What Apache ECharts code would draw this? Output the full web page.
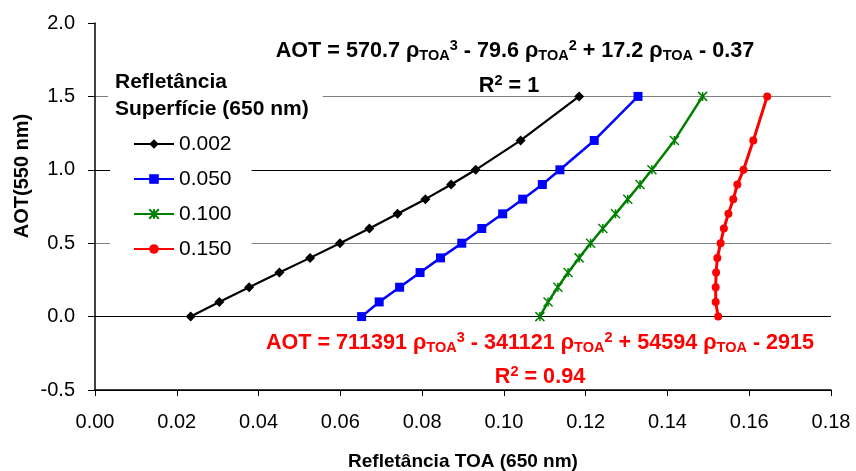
<!DOCTYPE html>
<html>
<head>
    <meta charset="UTF-8">
    <title>AOT x Refletância TOA</title>
    <script src="https://cdn.jsdelivr.net/npm/echarts@6/dist/echarts.min.js"></script>
</head>
<body style="margin: 0; background: #fff">
    <div id="container" style="width: 856px; height: 471px"></div>
    <script type="text/javascript">
        var fonte = "'Liberation Sans', Arial, sans-serif";

        // AOT (550 nm) niveis simulados
        var aotNiveis = [0, 0.1, 0.2, 0.3, 0.4, 0.5, 0.6, 0.7, 0.8, 0.9, 1.0, 1.2, 1.5];
        // refletancia TOA (650 nm) por refletancia de superficie
        var toa002 = [0.0234, 0.0304, 0.0377, 0.0451, 0.0526, 0.0599, 0.0671, 0.0740, 0.0808, 0.0871, 0.0931, 0.1041, 0.1184];
        var toa050 = [0.0652, 0.0695, 0.0745, 0.0795, 0.0845, 0.0897, 0.0946, 0.0997, 0.1046, 0.1094, 0.1137, 0.1221, 0.1328];
        var toa100 = [0.1088, 0.1108, 0.1132, 0.1157, 0.1184, 0.1212, 0.1242, 0.1273, 0.1303, 0.1333, 0.1362, 0.1417, 0.1486];
        var toa150 = [0.1524, 0.1518, 0.1518, 0.1519, 0.1522, 0.1530, 0.1538, 0.1549, 0.1561, 0.1571, 0.1586, 0.1610, 0.1644];
        var nomes = ['0.002', '0.050', '0.100', '0.150'];
        var cores = ['#000000', '#0000ff', '#008000', '#ff0000'];

        function pares(xs) {
            return xs.map((x, i) => [x, aotNiveis[i]]);
        }

        var asterisco = 'path://M0,0L10,10M10,0L0,10M5,0L5,10';

        // estilos do texto das equacoes (rho com subscrito TOA e expoente)
        function estiloEq(cor) {
            return {
                b: { font: 'bold 21.6px ' + fonte, fill: cor, lineHeight: 30, verticalAlign: 'middle' },
                s: { font: 'bold 14.5px ' + fonte, fill: cor, lineHeight: 30, verticalAlign: 'bottom', padding: [0, 0, 3, 0] },
                p: { font: 'bold 14.5px ' + fonte, fill: cor, lineHeight: 30, verticalAlign: 'top', padding: [2, 0, 0, 0] }
            };
        }

        function textoEq(txt, x, y, cor) {
            return {
                type: 'text',
                x: x,
                y: y,
                z: 100,
                style: {
                    text: txt,
                    align: 'center',
                    verticalAlign: 'middle',
                    fill: cor,
                    rich: estiloEq(cor)
                }
            };
        }

        var dom = document.getElementById("container");
        var myChart = echarts.init(dom);
        var option = {
            animation: false,
            textStyle: { fontFamily: fonte },
            grid: {
                left: 95,
                right: 25,
                top: 23,
                bottom: 81,
                outerBoundsMode: 'none'
            },
            legend: {
                orient: 'vertical',
                left: 110,
                top: 128,
                padding: [5, 20, 5, 23],
                backgroundColor: '#fff',
                itemWidth: 40,
                itemHeight: 12,
                itemGap: 13,
                textStyle: { fontSize: 21, color: '#000', fontFamily: fonte, lineHeight: 22 },
                data: nomes
            },
            xAxis: {
                type: 'value',
                min: 0,
                max: 0.18,
                interval: 0.02,
                name: 'Refletância TOA (650 nm)',
                nameLocation: 'middle',
                nameGap: 62,
                nameTextStyle: { fontSize: 19, fontWeight: 'bold', color: '#000', fontFamily: fonte },
                axisLine: { onZero: false, lineStyle: { color: '#000', width: 1.5 } },
                axisTick: { length: 6, lineStyle: { color: '#000' } },
                axisLabel: {
                    fontSize: 20, color: '#000', margin: 22, fontFamily: fonte,
                    formatter: v => v.toFixed(2)
                },
                splitLine: { show: false }
            },
            yAxis: {
                type: 'value',
                min: -0.5,
                max: 2,
                interval: 0.5,
                axisLine: { show: true, lineStyle: { color: '#000', width: 1.5 } },
                axisTick: { show: true, length: 7, lineStyle: { color: '#000' } },
                axisLabel: {
                    fontSize: 20, color: '#000', margin: 20, fontFamily: fonte,
                    formatter: v => v.toFixed(1)
                },
                splitLine: {
                    show: true,
                    showMaxLine: false,
                    lineStyle: { color: ['#000', '#000', '#808080', '#000', '#808080'], width: 1 }
                }
            },
            graphic: [
                {
                    // titulo do eixo y, deslocado para cima como no original
                    type: 'text',
                    x: 22,
                    y: 176,
                    rotation: Math.PI / 2,
                    style: {
                        text: 'AOT(550 nm)',
                        font: 'bold 20px ' + fonte,
                        fill: '#000',
                        align: 'center',
                        verticalAlign: 'middle'
                    }
                },
                {
                    type: 'text',
                    left: 108,
                    top: 65,
                    z: 100,
                    style: {
                        text: 'Refletância\nSuperfície (650 nm)',
                        font: 'bold 21px ' + fonte,
                        lineHeight: 27,
                        fill: '#000',
                        backgroundColor: '#fff',
                        padding: [4, 14, 4, 7]
                    }
                },
                textoEq('{b|AOT = 570.7 ρ}{s|TOA}{p|3}{b| - 79.6 ρ}{s|TOA}{p|2}{b| + 17.2 ρ}{s|TOA}{b| - 0.37}', 515, 51, '#000'),
                textoEq('{b|R}{p|2}{b| = 1}', 509, 86, '#000'),
                textoEq('{b|AOT = 711391 ρ}{s|TOA}{p|3}{b| - 341121 ρ}{s|TOA}{p|2}{b| + 54594 ρ}{s|TOA}{b| - 2915}', 540, 343, '#ff0000'),
                textoEq('{b|R}{p|2}{b| = 0.94}', 540, 377, '#ff0000')
            ],
            series: [
                {
                    name: nomes[0],
                    type: 'line',
                    data: pares(toa002),
                    symbol: 'diamond',
                    symbolSize: 10,
                    lineStyle: { color: cores[0], width: 2.2 },
                    itemStyle: { color: cores[0] }
                },
                {
                    name: nomes[1],
                    type: 'line',
                    data: pares(toa050),
                    symbol: 'rect',
                    symbolSize: 9,
                    lineStyle: { color: cores[1], width: 2.5 },
                    itemStyle: { color: cores[1] }
                },
                {
                    name: nomes[2],
                    type: 'line',
                    data: pares(toa100),
                    symbol: asterisco,
                    symbolSize: 9,
                    lineStyle: { color: cores[2], width: 2.5 },
                    itemStyle: { color: cores[2], borderColor: cores[2], borderWidth: 1.5 }
                },
                {
                    name: nomes[3],
                    type: 'line',
                    data: pares(toa150),
                    symbol: 'circle',
                    symbolSize: 8,
                    lineStyle: { color: cores[3], width: 3 },
                    itemStyle: { color: cores[3] }
                }
            ]
        };
        myChart.setOption(option);
    </script>
</body>
</html>
